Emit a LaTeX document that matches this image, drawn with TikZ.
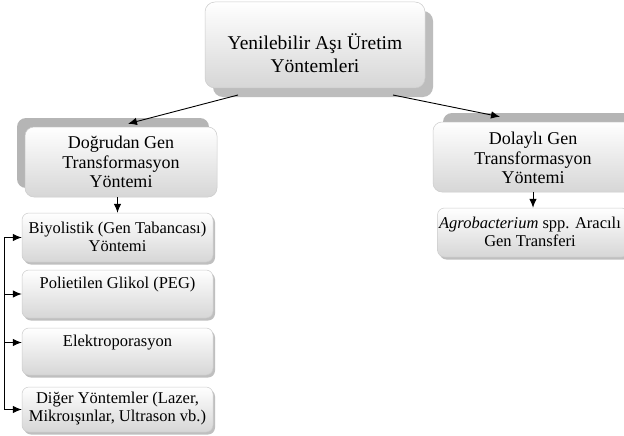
\documentclass[tikz,border=0pt]{standalone}
\usepackage{fontspec}
\setmainfont{Liberation Serif}
\usetikzlibrary{shadows,arrows.meta}
\begin{document}
\begin{tikzpicture}[x=1pt,y=-1pt,
  box/.style={rounded corners=7pt, top color=white, bottom color=gray!32, draw=gray!40, line width=0.5pt, inner sep=0pt},
  topbox/.style={box, minimum width=220pt, minimum height=86pt, rounded corners=10pt,
    drop shadow={shadow xshift=8pt, shadow yshift=-9pt, fill=gray!52, opacity=1}},
  leftmid/.style={box, minimum width=192pt, minimum height=70pt, rounded corners=9pt,
    drop shadow={shadow xshift=-8pt, shadow yshift=9pt, fill=gray!58, opacity=1}},
  rightmid/.style={box, minimum width=202pt, minimum height=70pt, rounded corners=9pt,
    drop shadow={shadow xshift=10pt, shadow yshift=9pt, fill=gray!58, opacity=1}},
  childbox/.style={box, minimum width=191pt, rounded corners=7pt,
    drop shadow={shadow xshift=2pt, shadow yshift=-2.5pt, fill=gray!50, opacity=1}},
  toptxt/.style={font=\fontsize{19.5}{23}\selectfont, align=center, inner sep=0pt},
  midtxt/.style={font=\fontsize{18}{19.5}\selectfont, align=center, inner sep=0pt},
  childtxt/.style={font=\fontsize{16.5}{18}\selectfont, align=center, inner sep=0pt},
  arr/.style={-{Latex[length=9pt,width=7.5pt]}, line width=0.9pt}
]
\useasboundingbox (0,0) rectangle (624,436);
\clip (0,0) rectangle (624,436);
\fill[white] (0,0) rectangle (624,436);

% boxes
\node[topbox] (top) at (315,45) {};
\node[leftmid] (dog) at (121,162) {};
\node[rightmid] (dol) at (534,157) {};
\node[childbox, minimum height=49pt] (agro) at (533,232.5) {};
\node[childbox, minimum height=49pt] (bio) at (117.5,237.5) {};
\node[childbox, minimum height=48pt] (peg) at (117.5,294) {};
\node[childbox, minimum height=47pt] (elek) at (117.5,351.5) {};
\node[childbox, minimum height=45pt] (dig) at (117.5,409.5) {};

% texts
\node[toptxt] (toptext) at (315,53) {Yenilebilir Aşı Üretim\\Yöntemleri};
\node[midtxt] (dogtext) at (121,162) {Doğrudan Gen\\Transformasyon\\Yöntemi};
\node[midtxt] (doltext) at (533,158) {Dolaylı Gen\\Transformasyon\\Yöntemi};
\node[childtxt] (agrotext) at (530,231.5) {\textit{Agrobacterium} spp. Aracılı\\Gen Transferi};
\node[childtxt] (biotext) at (117.5,236.5) {Biyolistik (Gen Tabancası)\\Yöntemi};
\node[childtxt] (pegtext) at (117.5,285) {Polietilen Glikol (PEG)};
\node[childtxt] (elektext) at (117.5,342.5) {Elektroporasyon};
\node[childtxt] (digtext) at (117.5,409) {Diğer Yöntemler (Lazer,\\Mikroışınlar, Ultrason vb.)};

% connectors
\coordinate (ts1) at (238,95);
\coordinate (ts2) at (393,95);
\draw[arr] (ts1) -- ([shift={(7,-3)}]dog.north);
\draw[arr] (ts2) -- ([shift={(-34,-5)}]dol.north);
\draw[arr] (bio.north |- dog.south) -- (bio.north);
\draw[arr] (agro.north |- dol.south) -- (agro.north);

\coordinate (railtop) at (4,237.5);
\coordinate (railbot) at (4,409.5);
\draw[line width=0.9pt] (railtop) -- (railbot);
\draw[arr] (railtop) -- (bio.west);
\draw[arr] (railtop |- peg.west) -- (peg.west);
\draw[arr] (railtop |- elektext.west) -- (elektext.west -| elek.west);
\draw[arr] (railbot) -- (dig.west);
\end{tikzpicture}
\end{document}
